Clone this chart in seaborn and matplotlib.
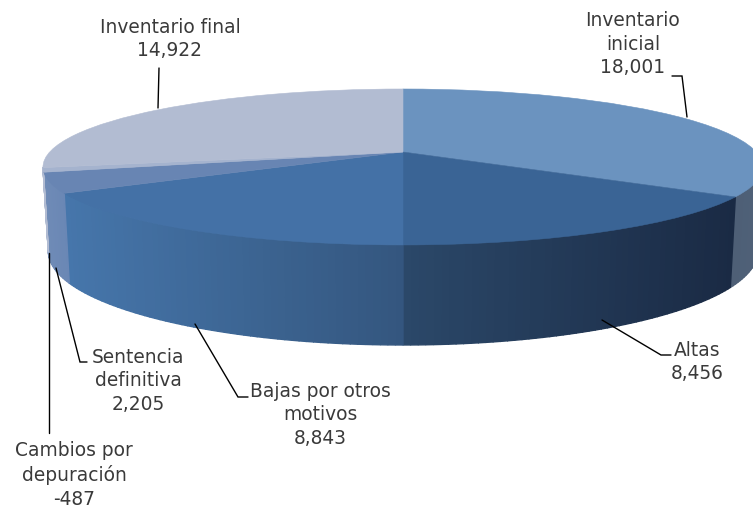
import numpy as np
import seaborn as sns
import matplotlib.pyplot as plt
from matplotlib.colors import to_rgb
from matplotlib.path import Path
from matplotlib.transforms import Transform

# Data
categories = ['Inventario\ninicial', 'Altas', 'Bajas por otros\nmotivos',
              'Sentencia\ndefinitiva', 'Cambios por\ndepuración', 'Inventario final']
values = [18001, 8456, 8843, 2205, -487, 14922]

top_colors = ['#6b93bf', '#3a6495', '#4471a6', '#6885b3', '#a5b3ce', '#b2bcd2']
side_left = ['#4e5f76', '#2b4869', '#4676ab', '#6f8bb6', '#7f97bd', '#b2bcd2']
side_right = ['#4f6178', '#1a2a44', '#34567e', '#6a87b5', '#6f8bb6', '#b2bcd2']

label_pos = [(633, 44), (697, 362), (320, 415), (138, 381), (74, 475), (170, 39)]
leaders = [
    [(672, 76), (682, 76), (687, 117)],
    [(602, 320), (661, 355), (671, 355)],
    [(195, 324), (238, 397), (248, 397)],
    [(56, 268), (80, 362), (87, 362)],
    [(49, 253), (49, 433)],
    [(159, 68), (158, 108)],
]


class PiePerspective(Transform):
    """Maps the unit pie onto the tilted plane, in pixel-like axes units."""
    input_dims = 2
    output_dims = 2

    def __init__(self, cy, a, b, k=0.192):
        super().__init__()
        self.cy, self.a, self.b, self.k = cy, a, b, k

    def transform_non_affine(self, xy):
        xy = np.asarray(xy, dtype=float)
        w = 1 + self.k * xy[:, 1]
        return np.column_stack([403 + self.b * xy[:, 0] / w, self.cy - self.a * xy[:, 1] / w])

    def transform_path_non_affine(self, path):
        return Path(self.transform_non_affine(path.vertices), path.codes)


sns.set_theme(style='white')
plt.rcParams['font.family'] = ['DejaVu Sans']

fig, ax = plt.subplots(figsize=(7.53, 5.09), dpi=100)
fig.subplots_adjust(left=0, right=1, top=1, bottom=0)

sizes = np.abs(values)
wedges, _ = ax.pie(sizes, colors=top_colors, startangle=90, counterclock=False,
                   wedgeprops=dict(linewidth=0.4, zorder=3))
ax.set_aspect('auto')
ax.set_xlim(0, 753)
ax.set_ylim(509, 0)

top_plane = PiePerspective(152, 75.1, 353.3)
bottom_plane = PiePerspective(233.6, 90.0, 348.0)
for wedge, color in zip(wedges, top_colors):
    wedge.set_edgecolor(color)
    wedge.set_transform(top_plane + ax.transData)

# Side wall, cut into thin strips so the shading can run across it
edges = np.cumsum(np.r_[0, sizes]) / sizes.sum() * 2 * np.pi
visible_from, visible_to = np.radians(101), np.radians(259)
for i in range(len(values)):
    start, end = max(edges[i], visible_from), min(edges[i + 1], visible_to)
    if end <= start:
        continue
    n_strips = max(2, int(np.degrees(end - start)))
    thetas = np.linspace(start, end, n_strips + 1)
    ring = np.column_stack([np.sin(thetas), np.cos(thetas)])
    upper = top_plane.transform_non_affine(ring)
    lower = bottom_plane.transform_non_affine(ring)
    x_lo, x_hi = upper[:, 0].min(), upper[:, 0].max()
    c_left, c_right = np.array(to_rgb(side_left[i])), np.array(to_rgb(side_right[i]))
    for j in range(n_strips):
        t = (0.5 * (upper[j, 0] + upper[j + 1, 0]) - x_lo) / (x_hi - x_lo)
        c = c_left + (c_right - c_left) * t
        ax.fill([upper[j, 0], upper[j + 1, 0], lower[j + 1, 0], lower[j, 0]],
                [upper[j, 1], upper[j + 1, 1], lower[j + 1, 1], lower[j, 1]],
                color=c, linewidth=1.0, zorder=2)

# Labels and their leader lines
for name, value, (x, y), leader in zip(categories, values, label_pos, leaders):
    ax.text(x, y, f'{name}\n{value:,}', ha='center', va='center', fontsize=13.4,
            color='#3a3a3a', linespacing=1.31, zorder=5)
    xs, ys = zip(*leader)
    ax.plot(xs, ys, color='black', linewidth=1.0, zorder=4, solid_joinstyle='miter')

ax.axis('off')
fig.savefig('out.png', dpi=100)
